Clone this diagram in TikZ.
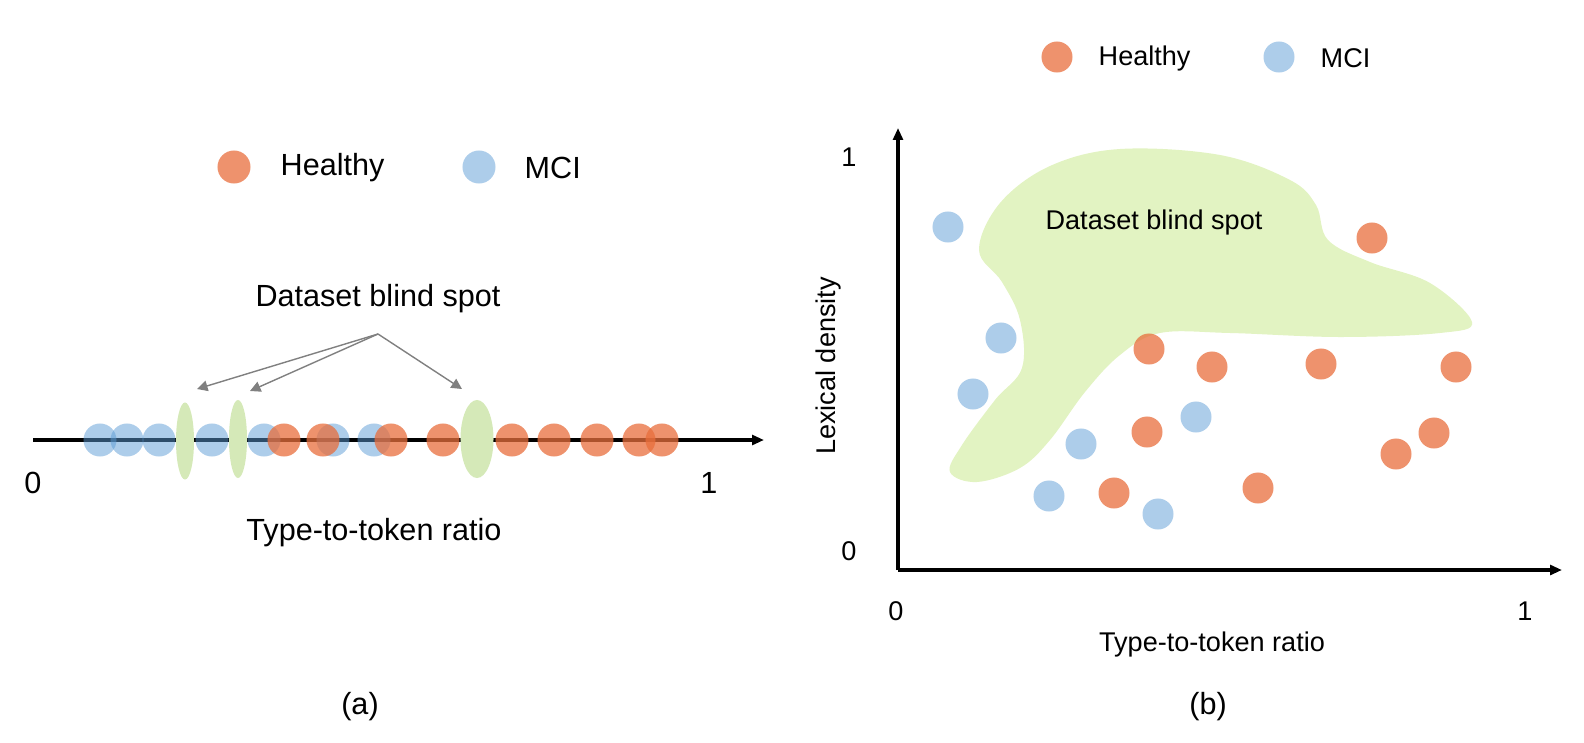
\documentclass[tikz,border=0pt]{standalone}
\usepackage{fontspec}
\setmainfont{Liberation Sans}
\usepackage{xcolor}
\usepackage{tikz}
\usetikzlibrary{positioning,calc,arrows.meta,shapes.geometric}

\definecolor{hcol}{RGB}{232,110,60}
\definecolor{mcol}{RGB}{91,155,213}
\definecolor{spotcol}{RGB}{213,233,184}
\definecolor{blobcol}{RGB}{226,243,194}

\tikzset{
	hdot/.style={circle,fill=hcol,fill opacity=0.75,minimum size=0.33cm,inner sep=0pt},
	mdot/.style={circle,fill=mcol,fill opacity=0.5,minimum size=0.33cm,inner sep=0pt},
	spot/.style={ellipse,fill=spotcol,inner sep=0pt},
	axisline/.style={line width=0.9pt,-{Triangle[length=3.4pt,width=2.8pt]}},
	pointer/.style={draw=black!50,line width=0.4pt,-{Triangle[length=3pt,width=3pt]}},
	lbl/.style={font=\fontsize{8.7}{10}\selectfont,inner sep=0pt},
	rlbl/.style={font=\fontsize{7.7}{9}\selectfont,inner sep=0pt}
}

\begin{document}
\begin{tikzpicture}[x=0.01cm,y=-0.01cm]
			\useasboundingbox (0,0) rectangle (1584,742);
			
			% (a) one axis
			\node[hdot] (lhleg) at (234,167) {};
			\node[lbl,anchor=west] (lhtext) at (280,168) {Healthy};
			\node[mdot] (lmleg) at (479,167) {};
			\node[lbl,anchor=west] (lmtext) at (524,168) {MCI};
			
			\coordinate (lstart) at (33,440);
			\coordinate (lend) at (764,440);
			\draw[axisline] (lstart) -- (lend);
			
			\foreach \x [count=\i] in {100,127,159,212,264,333,374} {
				\node[mdot] (lm\i) at (\x,440) {};
			}
			\foreach \x [count=\i] in {284,323,391,443,512,554,597,639,662} {
				\node[hdot] (lh\i) at (\x,440) {};
			}
			
			\node[spot,minimum width=0.18cm,minimum height=0.77cm] (gap1) at (185,441) {};
			\node[spot,minimum width=0.18cm,minimum height=0.78cm] (gap2) at (238,439) {};
			\node[spot,minimum width=0.33cm,minimum height=0.78cm] (gap3) at (477,439) {};
			
			\node[lbl] (lspot) at (378,299) {Dataset blind spot};
			\coordinate (lspotfrom) at (378,334);
			\coordinate (tip1) at (197,389);
			\coordinate (tip2) at (250,391);
			\coordinate (tip3) at (462,389);
			\foreach \t in {tip1,tip2,tip3} {
				\draw[pointer] (lspotfrom) -- (\t);
			}
			
			\node[lbl] (lzero) at (33,483) {0};
			\node[lbl] (lone) at (709,483) {1};
			\node[lbl] (lxtitle) at (374,533) {Type-to-token ratio};
			\node[lbl] (capa) at (360,707) {(a)};
			
			% (b) two axes
			\node[hdot,minimum size=0.31cm] (rhleg) at (1057,57) {};
			\node[rlbl,anchor=west] (rhtext) at (1098,58) {Healthy};
			\node[mdot,minimum size=0.31cm] (rmleg) at (1279,57) {};
			\node[rlbl,anchor=west] (rmtext) at (1320,58) {MCI};
			
			\fill[blobcol] plot[smooth cycle,tension=0.6] coordinates {
				(979,250) (1000,203) (1050,166) (1120,149) (1220,155) (1290,180)
				(1316,205) (1328,240) (1370,262) (1430,283) (1472,322) (1440,333)
				(1340,337) (1230,333) (1160,333) (1120,355) (1085,392) (1050,440)
				(1020,468) (977,482) (950,472) (962,445) (995,400) (1022,368)
				(1020,320) (1002,282)};
			\node[rlbl] (rspot) at (1154,222) {Dataset blind spot};
			
			\coordinate (origin) at (898,570);
			\coordinate (ytop) at (898,128);
			\coordinate (xend) at (1562,570);
			\draw[axisline] (origin) -- (ytop);
			\draw[axisline] (origin) -- (xend);
			
			\foreach \p [count=\i] in {{948,227},{1001,338},{973,394},{1081,444},{1049,496},{1158,514},{1196,417}} {
				\node[mdot,minimum size=0.31cm] (rm\i) at (\p) {};
			}
			\foreach \p [count=\i] in {{1149,349},{1212,367},{1147,432},{1114,493},{1258,488},{1372,238},{1321,364},{1456,367},{1396,454},{1434,433}} {
				\node[hdot,minimum size=0.31cm] (rh\i) at (\p) {};
			}
			
			\node[rlbl] (ryone) at (849,157) {1};
			\node[rlbl] (ryzero) at (849,551) {0};
			\node[rlbl] (rxzero) at (896,611) {0};
			\node[rlbl] (rxone) at (1525,611) {1};
			\node[rlbl,rotate=90] (rytitle) at (828,366) {Lexical density};
			\node[rlbl] (rxtitle) at (1212,644) {Type-to-token ratio};
			\node[lbl] (capb) at (1208,707) {(b)};
		\end{tikzpicture}
\end{document}
